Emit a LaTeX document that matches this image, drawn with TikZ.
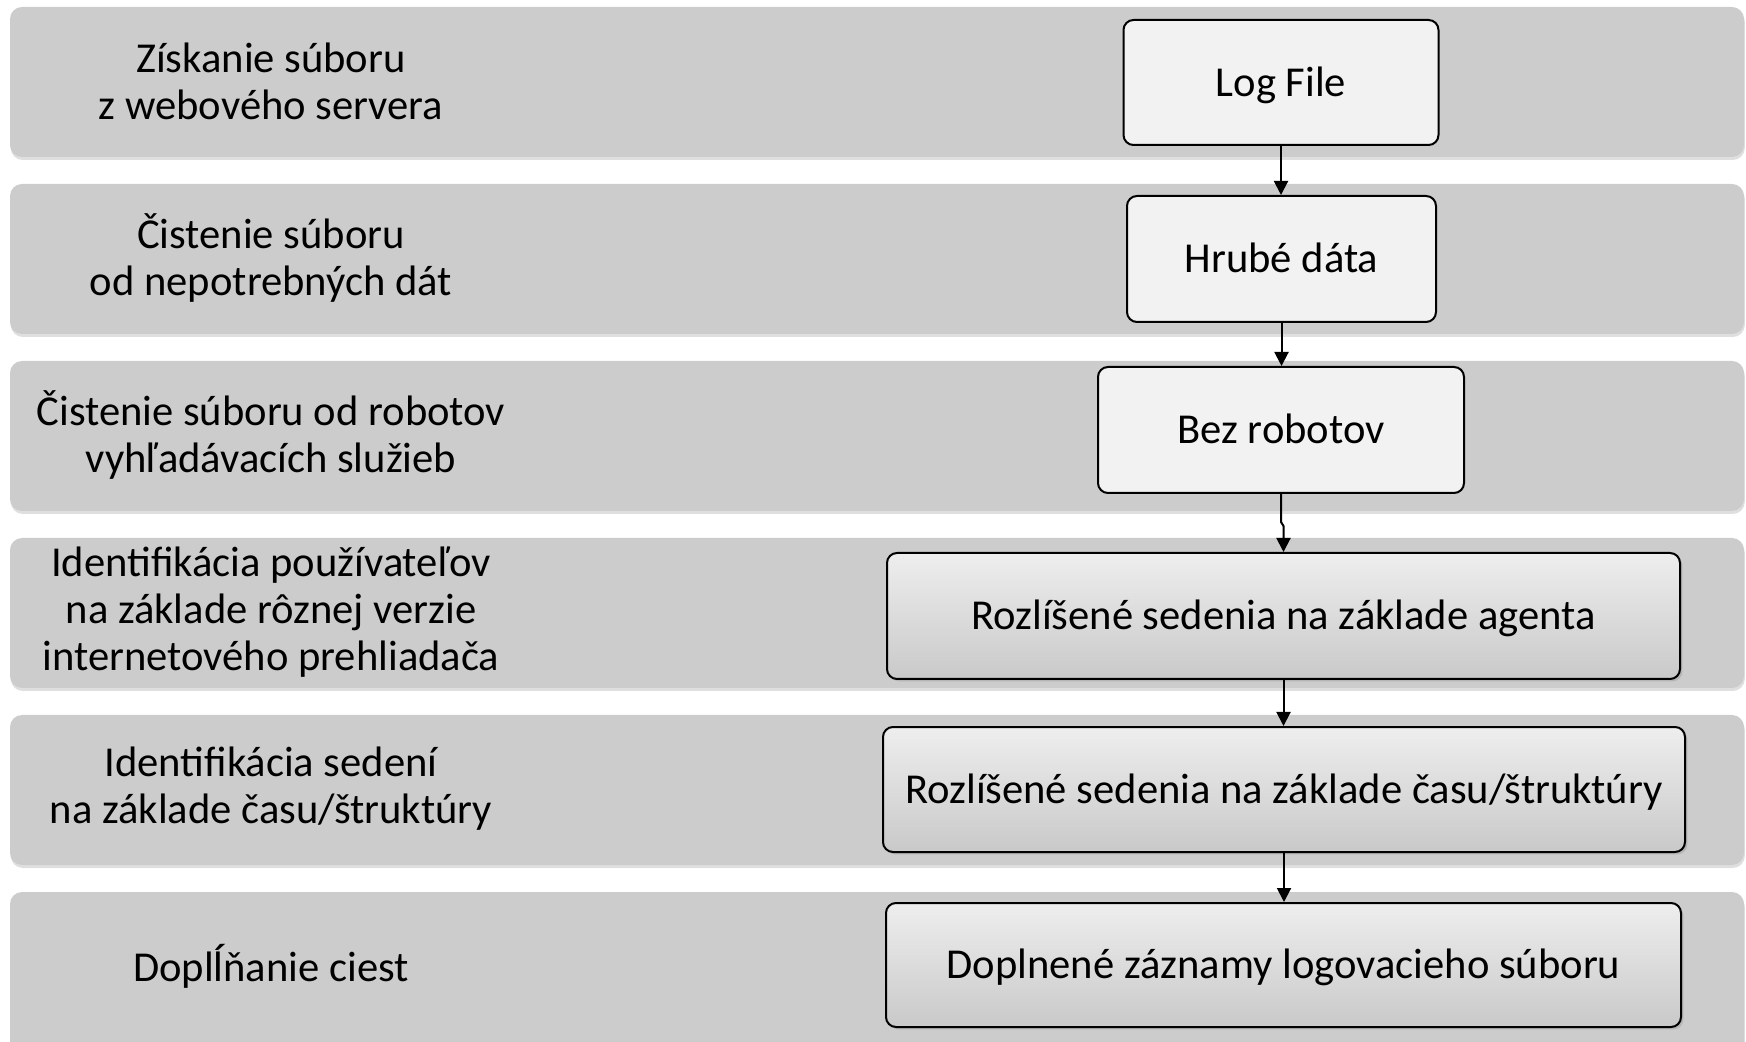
\documentclass[tikz,border=0pt]{standalone}
\usepackage{fontspec}
\setmainfont{Carlito}
\usetikzlibrary{shadows,arrows.meta,calc}
\definecolor{bandgray}{RGB}{204,204,204}
\definecolor{boxlight}{RGB}{242,242,242}
\definecolor{gradtop}{RGB}{238,238,238}
\definecolor{gradbot}{RGB}{201,201,201}
\begin{document}
\begin{tikzpicture}[x=0.5pt,y=-0.5pt,
  band/.style={fill=bandgray, rounded corners=6pt,
    drop shadow={shadow xshift=0.4pt, shadow yshift=-1.5pt, opacity=0.25}},
  lbl/.style={align=center, font=\fontsize{21.3}{23.4}\selectfont},
  boxbase/.style={draw=black, line width=1pt, rounded corners=5pt,
    font=\fontsize{21.3}{23.4}\selectfont, inner sep=0pt,
    text height=17.9pt, text depth=4.3pt},
  plainbox/.style={boxbase, fill=boxlight},
  gradbox/.style={boxbase, top color=gradtop, bottom color=gradbot,
    drop shadow={shadow xshift=1.2pt, shadow yshift=-1.2pt, opacity=0.3}},
  arr/.style={line width=1pt, -{Triangle[length=7pt,width=7pt]}}
]
\useasboundingbox (0,0) rectangle (1746,1042);
\clip (0,0) rectangle (1746,1042);
% bands
\fill[band] (10,7) rectangle (1744,157);
\fill[band] (10,184) rectangle (1744,334);
\fill[band] (10,361) rectangle (1744,511);
\fill[band] (10,538) rectangle (1744,688);
\fill[band] (10,715) rectangle (1744,865);
\fill[band] (10,892) rectangle (1744,1070);
% left labels
\node[lbl] (l1) at (271,81) {Získanie súboru\\z webového servera};
\node[lbl] (l2) at (271,258) {Čistenie súboru\\od nepotrebných dát};
\node[lbl] (l3) at (271,435) {Čistenie súboru od robotov\\vyhľadávacích služieb};
\node[lbl] (l4) at (271,612) {Identifikácia používateľov\\na základe rôznej verzie\\internetového prehliadača};
\node[lbl] (l5) at (271,789) {Identifikácia sedení\\na základe času/štruktúry};
\node[lbl] (l6) at (271,966) {Doplĺňanie ciest};
% boxes
\node[plainbox, minimum width=157.5pt, minimum height=62.5pt] (b1) at (1281,82.5) {Log File};
\node[plainbox, minimum width=154.5pt, minimum height=63pt] (b2) at (1281.5,259) {Hrubé dáta};
\node[plainbox, minimum width=183pt, minimum height=63pt] (b3) at (1281,430) {Bez robotov};
\node[gradbox, minimum width=396.5pt, minimum height=63pt] (b4) at (1283.5,616) {Rozlíšené sedenia na základe agenta};
\node[gradbox, minimum width=401pt, minimum height=62.5pt] (b5) at (1284,789.5) {Rozlíšené sedenia na základe času/štruktúry};
\node[gradbox, minimum width=397.5pt, minimum height=62pt] (b6) at (1283.5,965) {Doplnené záznamy logovacieho súboru};
% connectors
\draw[arr] (b1.south) -- (b1.south |- b2.north);
\draw[arr] (b2.south) -- (b2.south |- b3.north);
\coordinate (j1) at (1281,522);
\coordinate (j2) at (1283.5,526);
\draw[arr] (b3.south) -- (j1) -- (j2) -- (j2 |- b4.north);
\draw[arr] (b4.south) -- (b4.south |- b5.north);
\draw[arr] (b5.south) -- (b5.south |- b6.north);
\end{tikzpicture}
\end{document}
